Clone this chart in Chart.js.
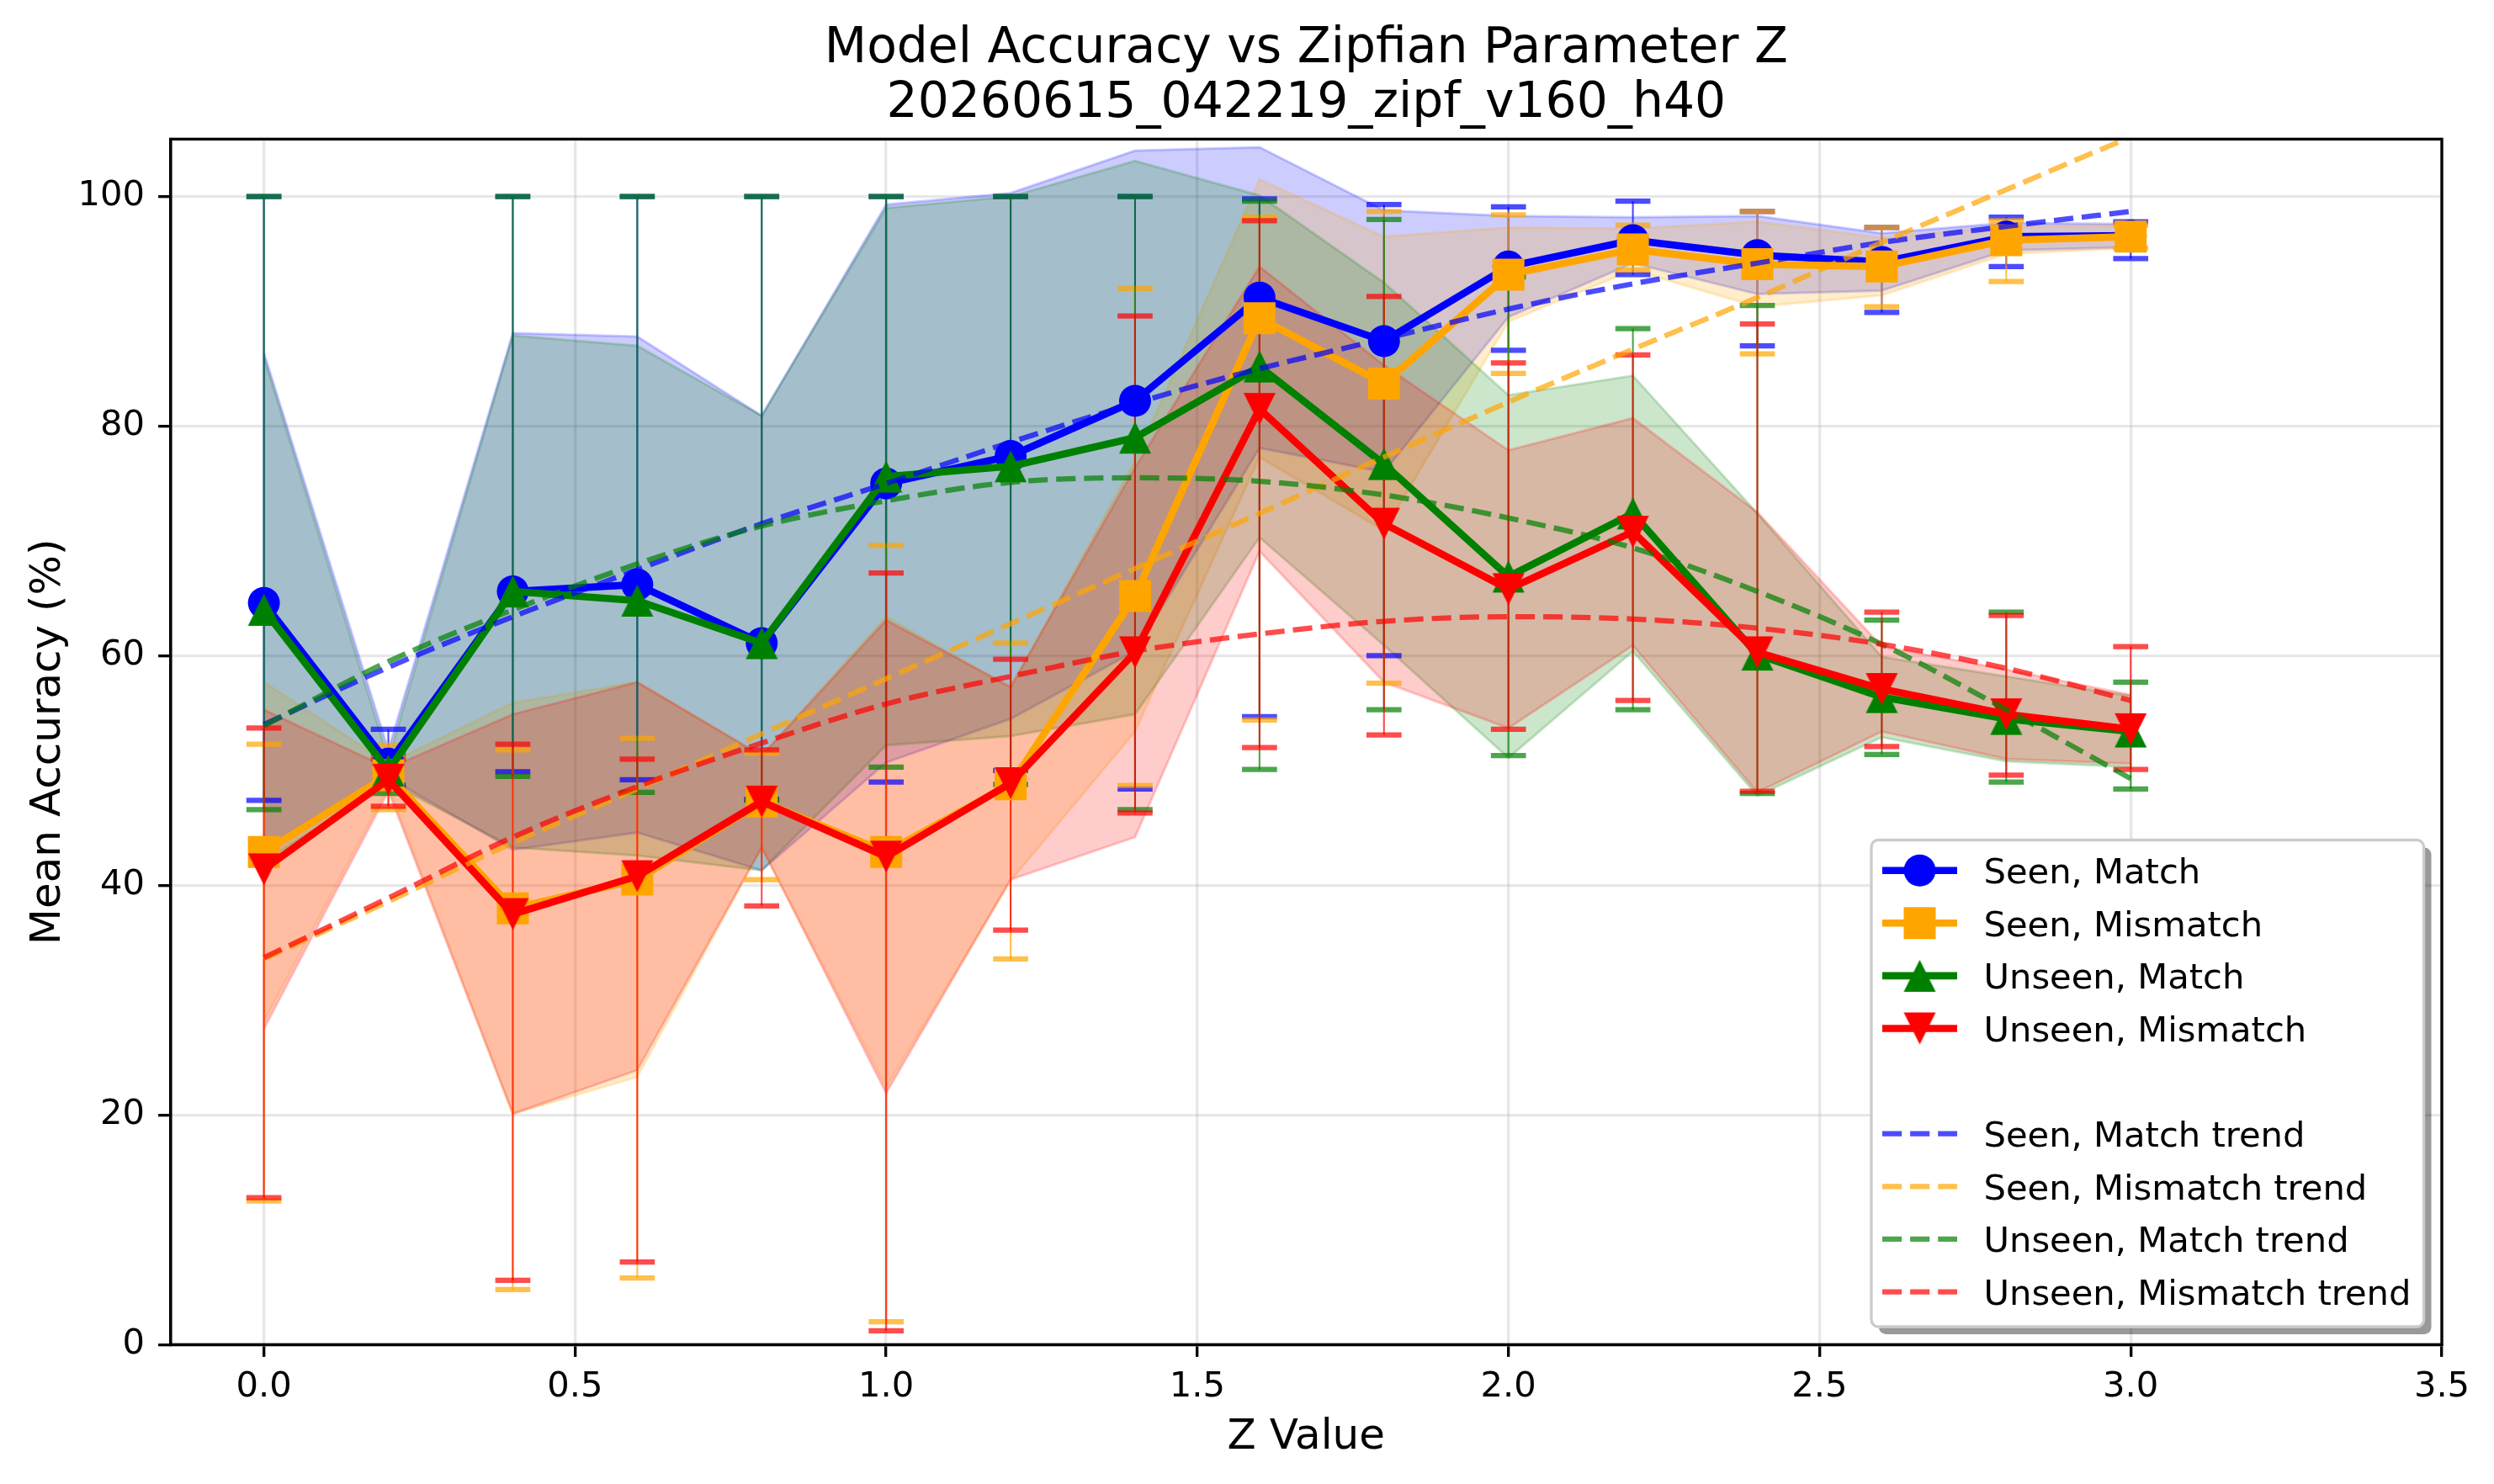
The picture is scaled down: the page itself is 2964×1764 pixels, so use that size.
<!DOCTYPE html>
<html>
<head>
<meta charset="utf-8">
<script src="https://cdn.jsdelivr.net/npm/chart.js@4.4.1/dist/chart.umd.min.js"></script>
<style>
html, body { margin: 0; padding: 0; background: #ffffff; }
#c { display: block; }
</style>
</head>
<body>
<canvas id="c" width="2964" height="1764"></canvas>
<script>
// ---------------- data ----------------
const zValues = [0.0, 0.2, 0.4, 0.6, 0.8, 1.0, 1.2, 1.4, 1.6, 1.8, 2.0, 2.2, 2.4, 2.6, 2.8, 3.0];

const seriesNames = ['Seen, Match', 'Seen, Mismatch', 'Unseen, Match', 'Unseen, Mismatch'];
const trendNames = ['Seen, Match trend', 'Seen, Mismatch trend', 'Unseen, Match trend', 'Unseen, Mismatch trend'];

const seenMatchMean = [64.6, 50.6, 65.6, 66.2, 61.1, 75.0, 77.4, 82.2, 91.2, 87.4, 93.9, 96.2, 94.9, 94.3, 96.5, 96.6];
const seenMatchStd = [21.8, 1.2, 22.5, 21.6, 19.8, 24.3, 22.9, 21.8, 13.1, 11.4, 4.4, 2.0, 3.4, 2.5, 1.2, 1.0];
const seenMatchErrLow = [47.4, 48.7, 49.9, 49.2, 47.5, 49.0, 50.0, 48.4, 54.7, 60.0, 86.6, 93.2, 87.0, 89.9, 93.9, 94.6];
const seenMatchErrHigh = [100, 53.6, 100, 100, 100, 100, 100, 100, 99.8, 99.3, 99.1, 99.6, 98.7, 97.3, 98.2, 97.8];
const seenMatchTrend = [54.0, 59.0, 63.4, 67.5, 71.5, 75.0, 78.6, 82.0, 85.0, 87.6, 90.2, 92.4, 94.2, 96.0, 97.4, 98.7];

const seenMismatchMean = [42.9, 49.6, 38.0, 40.5, 47.3, 42.9, 48.8, 65.2, 89.4, 83.7, 93.2, 95.4, 94.1, 93.9, 96.2, 96.5];
const seenMismatchStd = [14.8, 1.0, 17.9, 17.2, 4.0, 20.5, 8.4, 11.8, 12.1, 12.8, 4.1, 1.8, 3.7, 2.5, 1.2, 1.0];
const seenMismatchErrLow = [12.5, 46.6, 4.8, 5.8, 40.5, 2.0, 33.6, 48.7, 54.4, 57.6, 84.6, 93.6, 86.3, 90.4, 92.6, 95.5];
const seenMismatchErrHigh = [52.3, 52.2, 51.8, 52.8, 51.5, 69.6, 61.1, 92.0, 98.2, 98.7, 98.4, 97.5, 98.7, 97.3, 97.9, 97.5];
const seenMismatchTrend = [33.6, 38.6, 43.7, 48.4, 53.2, 58.0, 62.8, 67.6, 72.4, 77.3, 82.1, 86.7, 91.2, 96.0, 100.6, 105.2];

const unseenMatchMean = [64.0, 50.0, 65.6, 64.8, 61.1, 75.6, 76.5, 79.0, 85.2, 76.7, 66.9, 72.4, 60.1, 56.4, 54.5, 53.4];
const unseenMatchStd = [22.0, 1.0, 22.3, 22.2, 19.8, 23.4, 23.5, 24.1, 14.9, 15.8, 15.8, 12.0, 12.3, 3.5, 3.7, 3.1];
const unseenMatchErrLow = [46.6, 48.0, 49.5, 48.1, 47.4, 50.3, 48.8, 46.6, 50.1, 55.3, 51.3, 55.3, 48.0, 51.4, 49.0, 48.4];
const unseenMatchErrHigh = [100, 51.5, 100, 100, 100, 100, 100, 100, 99.6, 98.0, 93.0, 88.5, 90.5, 63.1, 63.8, 57.7];
const unseenMatchTrend = [53.9, 59.5, 64.0, 68.0, 71.3, 73.5, 75.1, 75.5, 75.2, 74.0, 72.0, 69.4, 65.6, 61.0, 55.3, 49.3];

const unseenMismatchMean = [41.4, 49.2, 37.5, 40.8, 47.3, 42.5, 48.9, 60.3, 81.5, 71.5, 65.8, 70.8, 60.3, 57.1, 54.9, 53.6];
const unseenMismatchStd = [13.9, 1.0, 17.4, 16.9, 4.0, 20.6, 8.4, 16.1, 12.4, 13.8, 12.1, 9.9, 12.2, 3.7, 3.9, 3.0];
const unseenMismatchErrLow = [12.8, 46.9, 5.6, 7.2, 38.2, 1.2, 36.1, 46.3, 52.0, 53.1, 53.6, 56.1, 48.2, 52.1, 49.6, 50.1];
const unseenMismatchErrHigh = [53.7, 51.0, 52.3, 51.0, 51.8, 67.2, 59.7, 89.6, 97.9, 91.3, 85.5, 86.2, 88.9, 63.8, 63.5, 60.8];
const unseenMismatchTrend = [33.7, 38.9, 44.2, 48.6, 52.4, 55.8, 58.2, 60.4, 61.9, 63.0, 63.4, 63.2, 62.4, 61.0, 58.9, 56.1];

const xTickValues = [0.0, 0.5, 1.0, 1.5, 2.0, 2.5, 3.0, 3.5];
const yTickValues = [0, 20, 40, 60, 80, 100];

// ---------------- styling ----------------
const FONT = "'DejaVu Sans', 'Liberation Sans', sans-serif";
const PT = 300 / 72;
const seriesRGB = [[0, 0, 255], [255, 165, 0], [0, 128, 0], [255, 0, 0]];
const markers = ['circle', 'rect', 'triUp', 'triDown'];
const means = [seenMatchMean, seenMismatchMean, unseenMatchMean, unseenMismatchMean];
const stds = [seenMatchStd, seenMismatchStd, unseenMatchStd, unseenMismatchStd];
const errLows = [seenMatchErrLow, seenMismatchErrLow, unseenMatchErrLow, unseenMismatchErrLow];
const errHighs = [seenMatchErrHigh, seenMismatchErrHigh, unseenMatchErrHigh, unseenMismatchErrHigh];
const trends = [seenMatchTrend, seenMismatchTrend, unseenMatchTrend, unseenMismatchTrend];

const MARKER = 38;           // marker extent in px
const LINE_W = 8.6;
const TREND_W = 1.5 * PT;
const TREND_DASH = [3.7 * 1.5 * PT, 1.6 * 1.5 * PT];

function rgba(rgb, a) { return 'rgba(' + rgb[0] + ',' + rgb[1] + ',' + rgb[2] + ',' + a + ')'; }

function triangleCanvas(rgb, up) {
  const s = MARKER + 4;
  const c = document.createElement('canvas');
  c.width = s; c.height = s;
  const g = c.getContext('2d');
  g.fillStyle = rgba(rgb, 1);
  g.beginPath();
  const m = 2, e = s - 2, mid = s / 2;
  if (up) { g.moveTo(mid, m); g.lineTo(e, e); g.lineTo(m, e); }
  else { g.moveTo(mid, e); g.lineTo(m, m); g.lineTo(e, m); }
  g.closePath();
  g.fill();
  return c;
}
const markerStyles = [
  { style: 'circle', radius: MARKER / 2 },
  { style: 'rect', radius: MARKER / 2 * Math.SQRT2 },
  { style: triangleCanvas(seriesRGB[2], true), radius: MARKER / 2 },
  { style: triangleCanvas(seriesRGB[3], false), radius: MARKER / 2 }
];

// ---------------- datasets ----------------
const datasets = [];
for (let i = 0; i < 4; i++) {
  const rgb = seriesRGB[i];
  // spread band (mean +/- std)
  datasets.push({
    label: seriesNames[i] + ' band upper',
    data: zValues.map((x, j) => ({ x: x, y: means[i][j] + stds[i][j] })),
    borderColor: rgba(rgb, 0.2), backgroundColor: rgba(rgb, 0.2), borderWidth: 3,
    pointRadius: 0, fill: '+1', order: 43 - i, tension: 0
  });
  datasets.push({
    label: seriesNames[i] + ' band lower',
    data: zValues.map((x, j) => ({ x: x, y: means[i][j] - stds[i][j] })),
    borderColor: rgba(rgb, 0.2), backgroundColor: rgba(rgb, 0.2), borderWidth: 3,
    pointRadius: 0, fill: false, order: 43 - i, tension: 0
  });
}
for (let i = 0; i < 4; i++) {
  const rgb = seriesRGB[i];
  const stems = [];
  const caps = [];
  zValues.forEach((x, j) => {
    stems.push({ x: x, y: errLows[i][j] }, { x: x, y: errHighs[i][j] }, { x: x, y: null });
    caps.push({ x: x, y: errLows[i][j] }, { x: x, y: errHighs[i][j] });
  });
  datasets.push({
    label: seriesNames[i] + ' error stems', data: stems,
    borderColor: rgba(rgb, 0.7), borderWidth: 2.1, pointRadius: 0, fill: false,
    spanGaps: false, order: 33 - i, tension: 0
  });
  datasets.push({
    label: seriesNames[i] + ' error caps', data: caps, showLine: false,
    pointStyle: 'line', pointRadius: 5 * PT, pointBorderWidth: 1.5 * PT,
    pointBorderColor: rgba(rgb, 0.7), pointBackgroundColor: rgba(rgb, 0.7),
    order: 33 - i
  });
}
for (let i = 0; i < 4; i++) {
  const rgb = seriesRGB[i];
  datasets.push({
    label: seriesNames[i],
    data: zValues.map((x, j) => ({ x: x, y: means[i][j] })),
    borderColor: rgba(rgb, 1), backgroundColor: rgba(rgb, 1), borderWidth: LINE_W,
    borderJoinStyle: 'round', borderCapStyle: 'round',
    pointStyle: markerStyles[i].style, pointRadius: markerStyles[i].radius,
    pointBorderWidth: 0, pointBackgroundColor: rgba(rgb, 1),
    fill: false, tension: 0, order: 13 - i
  });
}
for (let i = 0; i < 4; i++) {
  const rgb = seriesRGB[i];
  datasets.push({
    label: trendNames[i],
    data: zValues.map((x, j) => ({ x: x, y: trends[i][j] })),
    borderColor: rgba(rgb, 0.7), borderWidth: TREND_W, borderDash: TREND_DASH,
    pointRadius: 0, fill: false, cubicInterpolationMode: 'monotone', order: 3 - i, clip: 0
  });
}

// ---------------- plugins ----------------
const framePlugin = {
  id: 'frame',
  afterDatasetsDraw(chart) {
    const a = chart.chartArea, g = chart.ctx;
    g.save();
    g.strokeStyle = '#000';
    g.lineWidth = 0.8 * PT;
    g.lineJoin = 'miter';
    g.strokeRect(a.left, a.top, a.right - a.left, a.bottom - a.top);
    g.restore();
  }
};

function drawMarker(g, i, x, y) {
  const rgb = seriesRGB[i];
  g.fillStyle = rgba(rgb, 1);
  if (i === 0) { g.beginPath(); g.arc(x, y, MARKER / 2, 0, Math.PI * 2); g.fill(); }
  else if (i === 1) { g.fillRect(x - MARKER / 2, y - MARKER / 2, MARKER, MARKER); }
  else { const c = markerStyles[i].style; g.drawImage(c, x - c.width / 2, y - c.height / 2); }
}

const legendPlugin = {
  id: 'mplLegend',
  afterDraw(chart) {
    const g = chart.ctx;
    const L = 2224, T = 998.5, R = 2880.5, B = 1577, rad = 8.3;
    g.save();
    // shadow
    g.fillStyle = 'rgba(0,0,0,0.4)';
    g.beginPath(); g.roundRect(L + 9, T + 9, R - L, B - T, rad); g.fill();
    // box
    g.fillStyle = '#ffffff';
    g.strokeStyle = '#cccccc';
    g.lineWidth = 0.8 * PT;
    g.beginPath(); g.roundRect(L, T, R - L, B - T, rad); g.fill(); g.stroke();
    const hx0 = 2237, hx1 = 2326, hxm = (hx0 + hx1) / 2, tx = 2357.5;
    const rowY = k => 1034.7 + 62.6 * k;
    g.font = (10 * PT) + 'px ' + FONT;
    g.textBaseline = 'alphabetic';
    g.textAlign = 'left';
    for (let i = 0; i < 4; i++) {
      const y = rowY(i);
      g.strokeStyle = rgba(seriesRGB[i], 1);
      g.lineWidth = LINE_W; g.setLineDash([]); g.lineCap = 'butt';
      g.beginPath(); g.moveTo(hx0, y); g.lineTo(hx1, y); g.stroke();
      drawMarker(g, i, hxm, y);
      g.fillStyle = '#000';
      g.fillText(seriesNames[i], tx, y + 0.365 * 10 * PT);
    }
    for (let i = 0; i < 4; i++) {
      const y = rowY(i + 5);
      g.strokeStyle = rgba(seriesRGB[i], 0.7);
      g.lineWidth = TREND_W; g.setLineDash(TREND_DASH); g.lineCap = 'butt';
      g.beginPath(); g.moveTo(hx0, y); g.lineTo(hx1, y); g.stroke();
      g.setLineDash([]);
      g.fillStyle = '#000';
      g.fillText(trendNames[i], tx, y + 0.365 * 10 * PT);
    }
    g.restore();
  }
};

const gridColor = 'rgba(176,176,176,0.3)';

new Chart(document.getElementById('c'), {
  type: 'line',
  data: { datasets: datasets },
  options: {
    responsive: false,
    devicePixelRatio: 1,
    animation: false,
    events: [],
    layout: { padding: { left: 0, right: 62, top: 0, bottom: 0 } },
    plugins: {
      legend: { display: false },
      tooltip: { enabled: false },
      filler: { propagate: false },
      title: {
        display: true,
        fullSize: false,
        text: ['Model Accuracy vs Zipfian Parameter Z', '20260615_042219_zipf_v160_h40'],
        color: '#000',
        font: { family: FONT, size: 14 * PT, weight: 'normal', lineHeight: 1.126 },
        padding: { top: 25.8, bottom: 8.2 }
      }
    },
    scales: {
      x: {
        type: 'linear', min: -0.15, max: 3.5,
        afterBuildTicks: s => { s.ticks = xTickValues.map(v => ({ value: v })); },
        afterFit: s => { s.height = 165.7; },
        ticks: {
          color: '#000', padding: 11, maxRotation: 0, autoSkip: false,
          font: { family: FONT, size: 10 * PT, lineHeight: 1.2 },
          callback: v => Number(v).toFixed(1)
        },
        grid: { color: gridColor, lineWidth: 0.8 * PT, drawTicks: true, tickLength: 3.5 * PT, tickColor: '#000', tickWidth: 0.8 * PT },
        border: { display: true, color: '#000', width: 0.8 * PT },
        title: {
          display: true, text: 'Z Value', color: '#000',
          font: { family: FONT, size: 12 * PT, lineHeight: 1.2 },
          padding: { top: 0, bottom: 24.8 }
        }
      },
      y: {
        type: 'linear', min: 0, max: 105,
        afterBuildTicks: s => { s.ticks = yTickValues.map(v => ({ value: v })); },
        afterFit: s => { s.width = 202.7; },
        ticks: {
          color: '#000', padding: 16, autoSkip: false,
          font: { family: FONT, size: 10 * PT, lineHeight: 1.2 },
          callback: v => String(v)
        },
        grid: { color: gridColor, lineWidth: 0.8 * PT, drawTicks: true, tickLength: 3.5 * PT, tickColor: '#000', tickWidth: 0.8 * PT },
        border: { display: true, color: '#000', width: 0.8 * PT },
        title: {
          display: true, text: 'Mean Accuracy (%)', color: '#000',
          font: { family: FONT, size: 12 * PT, lineHeight: 1.2 },
          padding: { top: 27.6, bottom: 0 }
        }
      }
    }
  },
  plugins: [framePlugin, legendPlugin]
});
</script>
</body>
</html>
